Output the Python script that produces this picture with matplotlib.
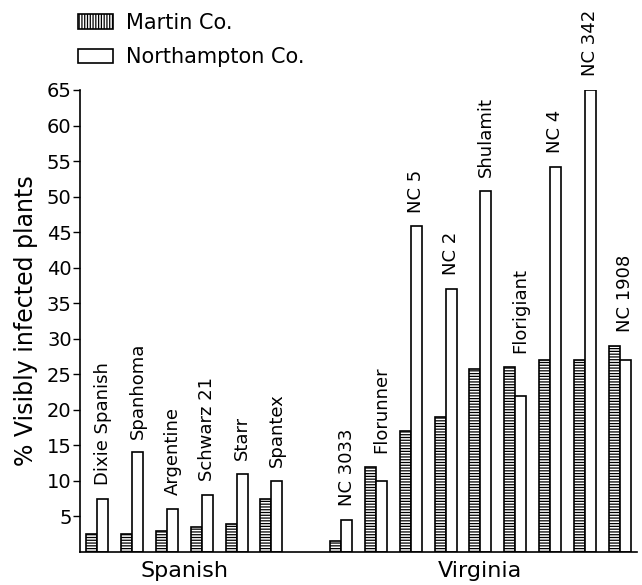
import matplotlib
matplotlib.use("Agg")
import matplotlib.pyplot as plt
from matplotlib.patches import Patch
import numpy as np

plt.rcParams['font.family'] = ['DejaVu Sans']
plt.rcParams['hatch.linewidth'] = 0.9

cultivars = ["Dixie Spanish", "Spanhoma", "Argentine", "Schwarz 21", "Starr", "Spantex",
             "NC 3033", "Florunner", "NC 5", "NC 2", "Shulamit", "Florigiant", "NC 4", "NC 342", "NC 1908"]
slots = [0, 1, 2, 3, 4, 5, 7, 8, 9, 10, 11, 12, 13, 14, 15]
martin = [2.5, 2.5, 3.0, 3.5, 4.0, 7.5, 1.5, 12.0, 17.0, 19.0, 25.7, 26.0, 27.0, 27.0, 29.0]
northampton = [7.5, 14.0, 6.0, 8.0, 11.0, 10.0, 4.5, 10.0, 45.8, 37.0, 50.8, 22.0, 54.2, 65.0, 27.0]
groups = ["Spanish", "Virginia"]
group_slots = [[0, 5], [7, 15]]
yticks = [5, 10, 15, 20, 25, 30, 35, 40, 45, 50, 55, 60, 65]

fig = plt.figure(figsize=(6.42, 5.85), dpi=100)
ax = fig.add_axes([80/642, 1-552/585, 557/642, (552-90)/585])

w = 0.316
x = np.array(slots, dtype=float)
ax.bar(x - w/2, martin, width=w, facecolor='white', edgecolor='black',
       linewidth=1.2, hatch='------')
ax.bar(x + w/2, northampton, width=w, facecolor='white', edgecolor='black',
       linewidth=1.2)

for xi, name, m, n in zip(x, cultivars, martin, northampton):
    ax.annotate(name, xy=(xi + w/2, max(m, n)), xytext=(0, 10), textcoords='offset points',
                rotation=90, ha='center', va='bottom', fontsize=13, annotation_clip=False)

ax.set_xlim(-0.5, 15.5)
ax.set_ylim(0, 65)
ax.set_yticks(yticks)
ax.set_yticklabels([str(t) for t in yticks], fontsize=14)
ax.set_xticks([])
ax.tick_params(axis='y', direction='out', length=5, width=1, pad=1)
for s in ['top', 'right']:
    ax.spines[s].set_visible(False)
ax.spines['left'].set_linewidth(1.2)
ax.spines['bottom'].set_linewidth(1.2)
ax.set_ylabel("% Visibly infected plants", fontsize=17, labelpad=6)

for g, (a, b) in zip(groups, group_slots):
    ax.text((a + b) / 2, -1.3, g, ha='center', va='top', fontsize=16,
            transform=ax.transData)

handles = [Patch(facecolor='white', edgecolor='black', hatch='||||||', linewidth=1.2),
           Patch(facecolor='white', edgecolor='black', linewidth=1.2)]
fig.legend(handles, ["Martin Co.", "Northampton Co."], loc='upper left',
           bbox_to_anchor=(78/642, 0.978), frameon=False, borderpad=0, borderaxespad=0,
           handlelength=1.7, handleheight=0.7, handletextpad=0.6, labelspacing=0.7,
           fontsize=15)

fig.savefig("out.png", dpi=100)
